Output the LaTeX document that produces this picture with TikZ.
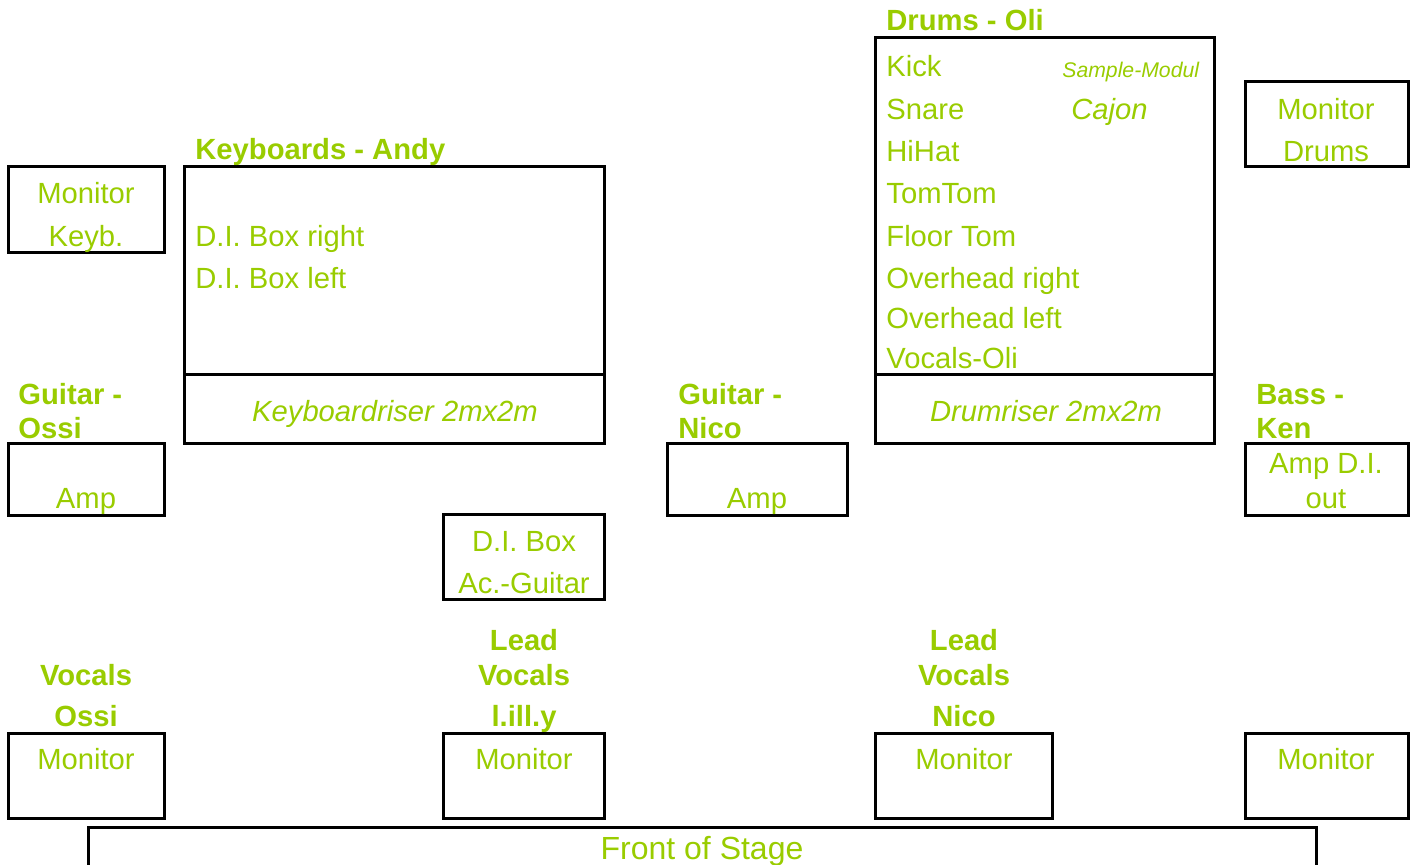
\documentclass[tikz,border=0pt]{standalone}
\usepackage{fontspec}
\setmainfont{Liberation Sans}
\definecolor{stagegreen}{HTML}{99CC00}
\tikzset{
  stagebox/.style={draw=black, line width=1.5pt},
  txt/.style={text=stagegreen, inner sep=0pt, yshift=-0.6pt, font=\fontsize{14.6}{17}\selectfont},
  who/.style={txt, font=\fontsize{14.6}{17}\selectfont\bfseries},
  riser/.style={txt, font=\fontsize{14.6}{17}\selectfont\itshape},
}
\begin{document}
\begin{tikzpicture}[x=0.5pt, y=-0.5pt]
\useasboundingbox (0,0) rectangle (1414,865);

% monitor keyboards
\draw[stagebox] (8,167) rectangle (164,253);
\node[txt, anchor=base] (monkeyb) at (86,202) {Monitor};
\node[txt, anchor=base] (monkeybb) at (86,245) {Keyb.};

% keyboards + riser
\draw[stagebox] (184,167) rectangle (604,444);
\draw[stagebox] (184,375) -- (604,375);
\node[who, anchor=base west] (keystitle) at (195,158) {Keyboards - Andy};
\node[txt, anchor=base west] (diright) at (195,245) {D.I. Box right};
\node[txt, anchor=base west] (dileft) at (195,287) {D.I. Box left};
\node[riser, anchor=base] (keyriser) at (395,420) {Keyboardriser 2mx2m};

% drums + riser
\draw[stagebox] (875,38) rectangle (1214,444);
\draw[stagebox] (875,375) -- (1214,375);
\node[who, anchor=base west] (drumstitle) at (886,29) {Drums - Oli};
\foreach \y/\item [count=\i] in {75/Kick, 118/Snare, 160/HiHat, 202/TomTom,
    245/Floor Tom, 287/Overhead right, 327/Overhead left, 367/Vocals-Oli}
  \node[txt, anchor=base west] (drum\i) at (886,\y) {\item};
\node[riser, anchor=base west, font=\fontsize{10.6}{12}\selectfont\itshape] (sample) at (1062,76) {Sample-Modul};
\node[riser, anchor=base west] (cajon) at (1071,118) {Cajon};
\node[riser, anchor=base] (drumriser) at (1046,420) {Drumriser 2mx2m};

% monitor drums
\draw[stagebox] (1245,82) rectangle (1408,167);
\node[txt, anchor=base] (mondrums) at (1326,118) {Monitor};
\node[txt, anchor=base] (mondrumsb) at (1326,160) {Drums};

% guitar ossi
\node[who, anchor=base west] (ossititle) at (18,403) {Guitar -};
\node[who, anchor=base west] (ossititleb) at (18,437) {Ossi};
\draw[stagebox] (8,444) rectangle (164,516);
\node[txt, anchor=base] (ampossi) at (86,507) {Amp};

% guitar nico
\node[who, anchor=base west] (nicotitle) at (678,403) {Guitar -};
\node[who, anchor=base west] (nicotitleb) at (678,437) {Nico};
\draw[stagebox] (667,444) rectangle (847,516);
\node[txt, anchor=base] (ampnico) at (757,507) {Amp};

% bass ken
\node[who, anchor=base west] (kentitle) at (1256,403) {Bass -};
\node[who, anchor=base west] (kentitleb) at (1256,437) {Ken};
\draw[stagebox] (1245,444) rectangle (1408,516);
\node[txt, anchor=base] (ampken) at (1326,472) {Amp D.I.};
\node[txt, anchor=base] (ampkenb) at (1326,507) {out};

% acoustic guitar di
\draw[stagebox] (443,515) rectangle (604,600);
\node[txt, anchor=base] (diac) at (524,550) {D.I. Box};
\node[txt, anchor=base] (diacb) at (524,592) {Ac.-Guitar};

% vocal monitors
\node[who, anchor=base] (vocossi) at (86,684) {Vocals};
\node[who, anchor=base] (vocossib) at (86,725) {Ossi};
\draw[stagebox] (8,733) rectangle (164,818);
\node[txt, anchor=base] (monossi) at (86,768) {Monitor};

\node[who, anchor=base] (leadlilly) at (524,649) {Lead};
\node[who, anchor=base] (leadlillyb) at (524,684) {Vocals};
\node[who, anchor=base] (leadlillyc) at (524,725) {l.ill.y};
\draw[stagebox] (443,733) rectangle (604,818);
\node[txt, anchor=base] (monlilly) at (524,768) {Monitor};

\node[who, anchor=base] (leadnico) at (964,649) {Lead};
\node[who, anchor=base] (leadnicob) at (964,684) {Vocals};
\node[who, anchor=base] (leadnicoc) at (964,725) {Nico};
\draw[stagebox] (875,733) rectangle (1052,818);
\node[txt, anchor=base] (monnico) at (964,768) {Monitor};

\draw[stagebox] (1245,733) rectangle (1408,818);
\node[txt, anchor=base] (monken) at (1326,768) {Monitor};

% front of stage
\draw[stagebox] (88,827) rectangle (1316,890);
\node[txt, anchor=base, font=\fontsize{16}{19}\selectfont] (front) at (702,858) {Front of Stage};
\end{tikzpicture}
\end{document}
